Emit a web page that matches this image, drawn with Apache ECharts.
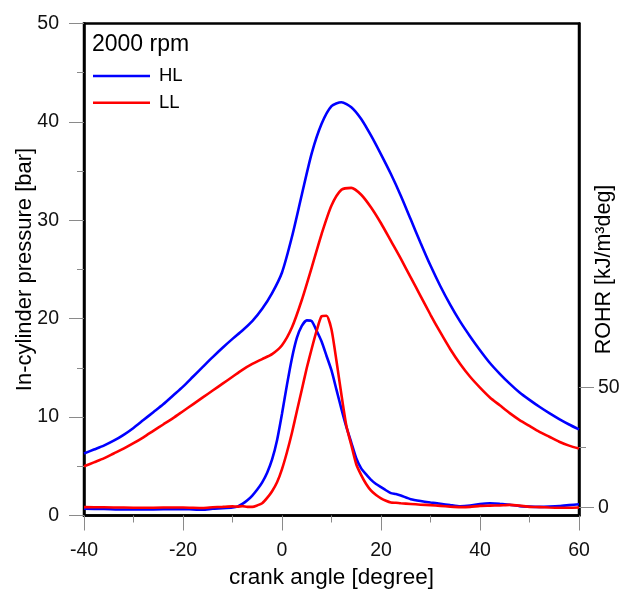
<!DOCTYPE html>
<html>
<head>
<meta charset="utf-8">
<script src="https://cdn.jsdelivr.net/npm/echarts@6/dist/echarts.min.js"></script>
<style>
html,body{margin:0;padding:0;background:#fff;}
#chart{width:628px;height:590px;}
</style>
</head>
<body>
<div id="chart"></div>
<script>
// Crank angle for pressure traces
var CA_P = [-40,-38,-36,-34,-32,-30,-28,-26,-24,-22,-20,-18,-16,-14,-12,-10,-8,-6,-4,-2,0,2,4,6,8,10,12,14,16,18,20,22,24,26,28,30,32,34,36,38,40,42,44,46,48,50,52,54,56,58,60];
var HL_P = [6.3,6.7,7.1,7.6,8.2,8.9,9.7,10.5,11.3,12.2,13.1,14.1,15.1,16.1,17.05,17.95,18.8,19.75,21.0,22.6,24.7,28.3,32.6,36.8,39.8,41.6,42.0,41.5,40.3,38.6,36.7,34.7,32.5,30.1,27.7,25.4,23.3,21.4,19.7,18.2,16.8,15.5,14.4,13.4,12.5,11.75,11.05,10.4,9.8,9.25,8.75];
var LL_P = [5.0,5.4,5.8,6.3,6.8,7.35,7.95,8.6,9.25,9.9,10.6,11.3,12.0,12.7,13.4,14.1,14.8,15.4,15.9,16.4,17.3,19.1,21.9,25.2,28.6,31.5,33.1,33.3,32.6,31.3,29.7,27.9,26.1,24.2,22.3,20.4,18.6,16.9,15.4,14.1,13.0,12.0,11.2,10.4,9.7,9.1,8.5,8.0,7.5,7.1,6.8];

// Crank angle for rate of heat release traces
var CA_R = [-40,-36,-32,-28,-24,-20,-16,-14,-12,-10,-9,-8,-7,-6,-5,-4,-3,-2,-1,0,1,2,3,4,5,6,7,8,9,10,11,12,13,14,15,16,17,18,19,20,21,22,23,24,26,28,30,32,34,36,38,40,42,44,46,48,50,52,54,56,58,60];
var HL_R = [-0.5,-0.6,-0.8,-0.8,-0.7,-0.6,-0.9,-0.5,-0.3,0.0,0.4,1.5,3.0,5.0,7.5,10.5,14.5,20,28,39,51,62,70.5,75.5,77.8,77.5,73.5,69,63,57,49,41,33.5,27,20.5,16.3,13.8,11.5,9.8,8.5,7.2,6.0,5.6,5.0,3.5,2.7,2.1,1.6,1.0,0.5,0.8,1.5,1.8,1.6,1.2,0.6,0.4,0.3,0.4,0.6,1.0,1.4];
var LL_R = [0.2,0.1,0.0,-0.1,0.0,0.0,-0.2,0.1,0.3,0.5,0.4,0.6,0.3,0.3,0.9,1.8,4.0,6.8,10.5,16,23,31,40,49,58,66,73.5,79.5,79.7,74,61,47,34,26,18,13.5,9.8,7.0,5.2,3.8,2.8,2.1,2.0,1.8,1.5,1.2,1.0,0.7,0.4,0.2,0.3,0.7,0.8,0.9,1.1,0.8,0.3,0.2,0.0,-0.1,-0.1,0.0];

var ROHR_LABELS = [0,50];
var ROHR_MINOR = [25];
var TITLE = '2000 rpm';
var NAMES = ['HL','LL'];

function pairs(xs, ys){ return xs.map(function(x,i){ return [x, ys[i]]; }); }

var FONT = 'Liberation Sans, Arial, sans-serif';
var TICKC = '#8a8a8a';

var chart = echarts.init(document.getElementById('chart'), null, {renderer:'canvas'});
var option = {
  animation:false,
  backgroundColor:'#fff',
  grid:{left:84, right:49, top:23.5, bottom:74.5, outerBoundsMode:'none', containLabel:false,
        show:true, borderColor:'#000', borderWidth:2.5, backgroundColor:'transparent'},
  graphic:[{
    type:'text', left:92, top:33,
    style:{text:TITLE, font:'23px '+FONT, fill:'#000'}
  }],
  legend:{
    data:[{name:NAMES[0], icon:'rect'},{name:NAMES[1], icon:'rect'}], orient:'vertical', left:93, top:66, padding:0,
    itemWidth:57, itemHeight:2.6, itemGap:6.7,
    textStyle:{fontFamily:FONT, fontSize:18.5, color:'#000', lineHeight:20, padding:[0,0,0,4]}
  },
  xAxis:{
    type:'value', min:-40, max:60, interval:20,
    name:'crank angle [degree]', nameLocation:'middle', nameGap:51, nameMoveOverlap:false,
    nameTextStyle:{fontFamily:FONT, fontSize:22.5, color:'#000'},
    axisLine:{show:true, onZero:false, lineStyle:{color:'#000', width:2.5}},
    axisTick:{show:true, inside:false, length:15, lineStyle:{color:TICKC, width:1}},
    minorTick:{show:true, splitNumber:2, length:7, lineStyle:{color:TICKC, width:1}},
    splitLine:{show:false}, minorSplitLine:{show:false},
    axisLabel:{fontFamily:FONT, fontSize:19.5, color:'#111', margin:25}
  },
  yAxis:[{
    type:'value', position:'left', min:0, max:50, interval:10,
    name:'In-cylinder pressure [bar]', nameLocation:'middle', nameGap:48, nameRotate:90, nameMoveOverlap:false,
    nameTextStyle:{fontFamily:FONT, fontSize:22, color:'#000'},
    axisLine:{show:true, onZero:false, lineStyle:{color:'#000', width:2.5}},
    axisTick:{show:true, inside:false, length:15, lineStyle:{color:TICKC, width:1}},
    minorTick:{show:true, splitNumber:2, length:7, lineStyle:{color:TICKC, width:1}},
    splitLine:{show:false}, minorSplitLine:{show:false},
    axisLabel:{fontFamily:FONT, fontSize:19.5, color:'#111', margin:25}
  },{
    type:'value', position:'right', min:-3.3, max:201.2,
    name:'ROHR [kJ/m\u00B3deg]', nameLocation:'middle', nameGap:14, nameRotate:90, nameMoveOverlap:false,
    nameTextStyle:{fontFamily:FONT, fontSize:21.5, color:'#000'},
    axisLine:{show:true, onZero:false, lineStyle:{color:'#000', width:2.5}},
    axisTick:{show:true, inside:false, length:15, customValues:ROHR_LABELS, lineStyle:{color:TICKC, width:1}},
    splitLine:{show:false},
    axisLabel:{fontFamily:FONT, fontSize:19.5, color:'#111', margin:19, customValues:ROHR_LABELS}
  },{
    type:'value', position:'right', min:-3.3, max:201.2,
    axisLine:{show:false, onZero:false},
    axisTick:{show:true, inside:false, length:7, customValues:ROHR_MINOR, lineStyle:{color:TICKC, width:1}},
    splitLine:{show:false},
    axisLabel:{show:false}
  }],
  series:[
    {name:'HL', type:'line', yAxisIndex:0, data:pairs(CA_P, HL_P), symbol:'none', smooth:0.25,
     lineStyle:{color:'#0000ff', width:2.6}, itemStyle:{color:'#0000ff'}},
    {name:'LL', type:'line', yAxisIndex:0, data:pairs(CA_P, LL_P), symbol:'none', smooth:0.25,
     lineStyle:{color:'#ff0000', width:2.6}, itemStyle:{color:'#ff0000'}},
    {name:'HL', type:'line', yAxisIndex:1, data:pairs(CA_R, HL_R), symbol:'none', smooth:0.2,
     lineStyle:{color:'#0000ff', width:2.6}, itemStyle:{color:'#0000ff'}},
    {name:'LL', type:'line', yAxisIndex:1, data:pairs(CA_R, LL_R), symbol:'none', smooth:0.2,
     lineStyle:{color:'#ff0000', width:2.6}, itemStyle:{color:'#ff0000'}}
  ]
};
chart.setOption(option);
</script>
</body>
</html>
